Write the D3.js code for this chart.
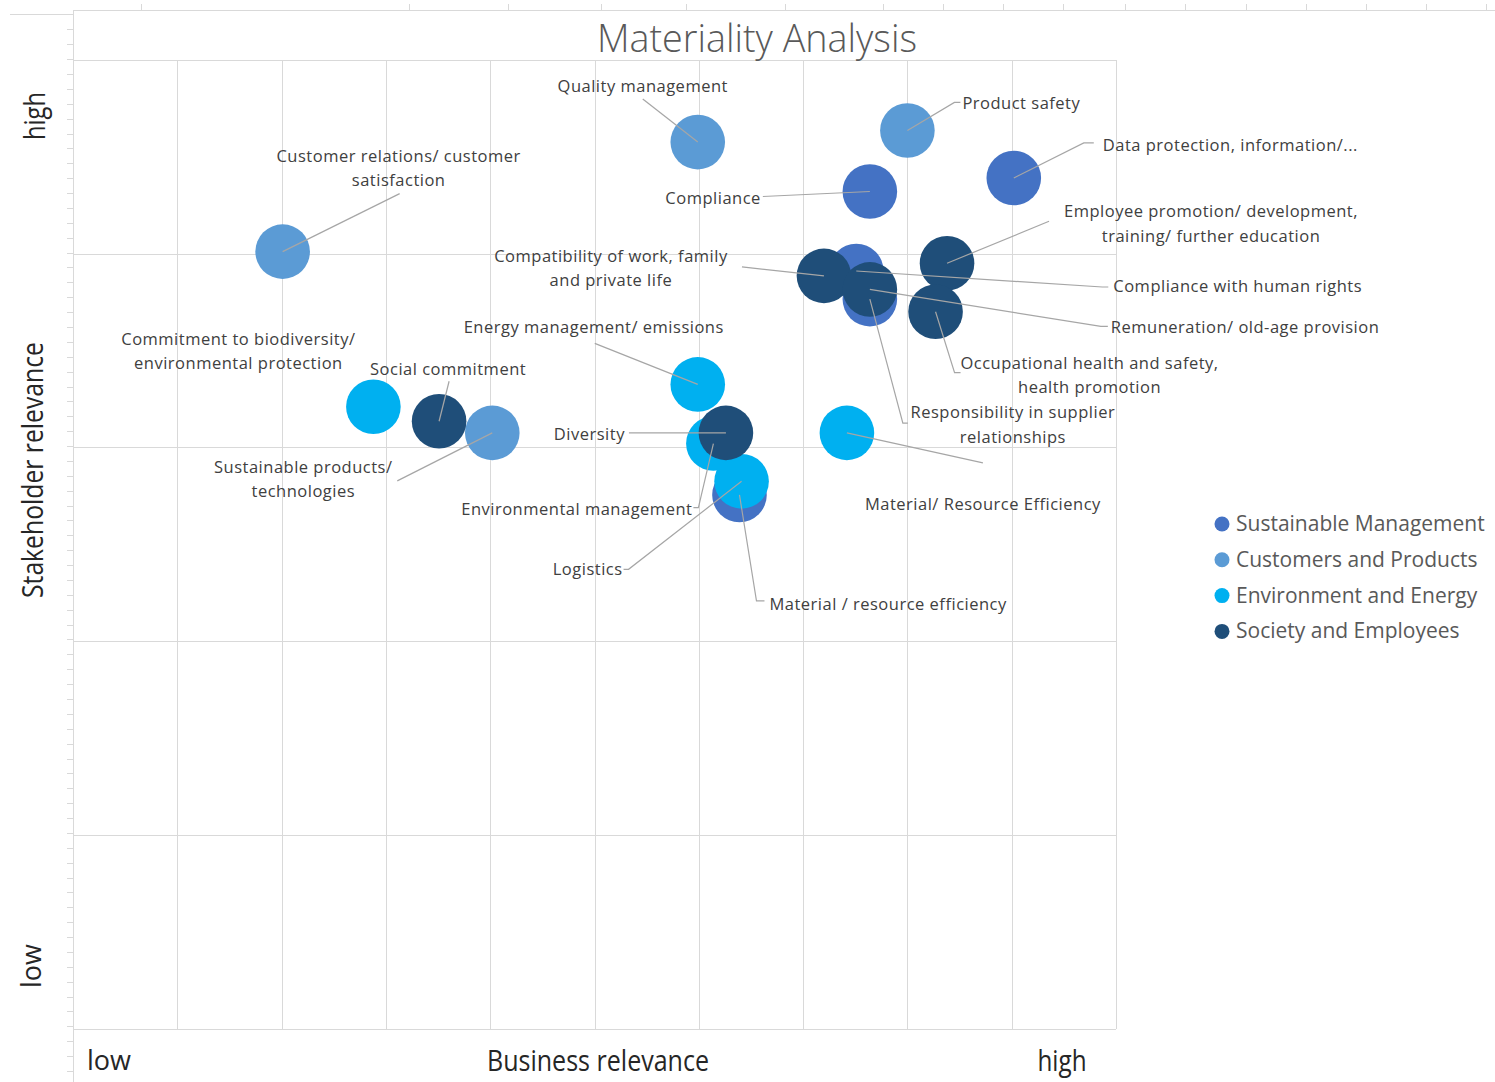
<!DOCTYPE html>
<meta charset="utf-8">
<title>Materiality Analysis</title>
<style>
body { margin: 0; background: #fff; }
svg { display: block; font-family: "Open Sans", "DejaVu Sans", sans-serif; }
.grid line, .frame line { stroke: #d9d9d9; stroke-width: 1; shape-rendering: crispEdges; }
.label { fill: #404040; font-size: 16.5px; letter-spacing: 0.5px; }
.leader { stroke: #a6a6a6; stroke-width: 1.2; fill: none; }
.legend text { fill: #595959; font-size: 21px; }
.axis-title { fill: #262626; }
</style>
<body>
<script src="https://d3js.org/d3.v7.min.js"></script>
<script>

// ---- data ----
var seriesNames  = ["Sustainable Management", "Customers and Products", "Environment and Energy", "Society and Employees"];
var seriesColors = ["#4472C4", "#5B9BD5", "#00B0F0", "#1F4E79"];

var sustainableManagement = [
  {name: "Compliance", x: 7.64, y: 8.64},
  {name: "Data protection, information/...", x: 9.02, y: 8.78},
  {name: "Compliance with human rights", x: 7.51, y: 7.82},
  {name: "Responsibility in supplier\nrelationships", x: 7.64, y: 7.53},
  {name: "Material / resource efficiency", x: 6.39, y: 5.51}
];
var customersProducts = [
  {name: "Quality management", x: 5.99, y: 9.15},
  {name: "Product safety", x: 8.00, y: 9.27},
  {name: "Customer relations/ customer\nsatisfaction", x: 2.01, y: 8.02},
  {name: "Sustainable products/\ntechnologies", x: 4.02, y: 6.15}
];
var environmentEnergy = [
  {name: "Commitment to biodiversity/\nenvironmental protection", x: 2.88, y: 6.42},
  {name: "Energy management/ emissions", x: 5.99, y: 6.65},
  {name: "Environmental management", x: 6.14, y: 6.04},
  {name: "Logistics", x: 6.41, y: 5.65},
  {name: "Material/ Resource Efficiency", x: 7.42, y: 6.15}
];
var societyEmployees = [
  {name: "Social commitment", x: 3.51, y: 6.27},
  {name: "Diversity", x: 6.26, y: 6.15},
  {name: "Compatibility of work, family\nand private life", x: 7.20, y: 7.77},
  {name: "Remuneration/ old-age provision", x: 7.64, y: 7.63},
  {name: "Employee promotion/ development,\ntraining/ further education", x: 8.38, y: 7.90},
  {name: "Occupational health and safety,\nhealth promotion", x: 8.27, y: 7.40}
];
var allSeries = [sustainableManagement, customersProducts, environmentEnergy, societyEmployees];

// label placement (pixel offsets from the bubble centre) and leader line bends
var labelLayout = {
  "Compliance": {a: "end", dx: -109, dy: 12, lead: [[-107, 5]]},
  "Data protection, information/...": {a: "start", dx: 89, dy: -27, lead: [[70, -35], [80, -35]]},
  "Compliance with human rights": {a: "start", dx: 257, dy: 21, lead: [[246, 16], [252, 16]]},
  "Responsibility in supplier\nrelationships": {a: "middle", dx: 143, dy: 119, lead: [[33, 124], [38, 124]]},
  "Material / resource efficiency": {a: "start", dx: 30, dy: 115, lead: [[17, 106], [25, 106]]},
  "Quality management": {a: "middle", dx: -55, dy: -50, lead: [[-55, -43]]},
  "Product safety": {a: "start", dx: 55, dy: -21, lead: [[47, -28], [53, -28]]},
  "Customer relations/ customer\nsatisfaction": {a: "middle", dx: 116, dy: -90, lead: [[117, -58]]},
  "Sustainable products/\ntechnologies": {a: "middle", dx: -189, dy: 40, lead: [[-95, 48]]},
  "Commitment to biodiversity/\nenvironmental protection": {a: "middle", dx: -135, dy: -62, lead: []},
  "Energy management/ emissions": {a: "middle", dx: -104, dy: -51, lead: [[-103, -41]]},
  "Environmental management": {a: "end", dx: -21, dy: 71, lead: [[-15, 64], [-20, 64]]},
  "Logistics": {a: "end", dx: -119, dy: 94, lead: [[-113, 88], [-118, 88]]},
  "Material/ Resource Efficiency": {a: "middle", dx: 136, dy: 77, lead: [[136, 30]]},
  "Social commitment": {a: "middle", dx: 9, dy: -46, lead: [[10, -40]]},
  "Diversity": {a: "end", dx: -101, dy: 7, lead: [[-97, 0]]},
  "Compatibility of work, family\nand private life": {a: "middle", dx: -213, dy: -14, lead: [[-82, -9]]},
  "Remuneration/ old-age provision": {a: "start", dx: 241, dy: 44, lead: [[231, 37], [238, 37]]},
  "Employee promotion/ development,\ntraining/ further education": {a: "middle", dx: 264, dy: -46, lead: [[102, -42]]},
  "Occupational health and safety,\nhealth promotion": {a: "middle", dx: 154, dy: 57, lead: [[19, 61], [25, 61]]}
};

// sheet ruler ticks along the top edge (decoration of the screenshot)
var rulerTicksTop = [141, 409, 508, 601, 686, 785, 883, 943, 1003, 1063, 1125, 1185, 1246, 1306, 1366, 1426, 1486];

// ---- layout ----
var W = 1495, H = 1082;
var plot = {left: 73, right: 1116, top: 59.7, bottom: 1029};
var radius = 27.3;

var x = d3.scaleLinear().domain([0, 10]).range([plot.left, plot.right]);
var y = d3.scaleLinear().domain([0, 10]).range([plot.bottom, plot.top]);

var svg = d3.select("body").append("svg")
    .attr("width", W)
    .attr("height", H);

// frame of the chart object + rulers
var frame = svg.append("g").attr("class", "frame");
frame.append("line").attr("x1", 73).attr("x2", W).attr("y1", 10.5).attr("y2", 10.5);
frame.append("line").attr("x1", 10).attr("x2", 73).attr("y1", 14.5).attr("y2", 14.5);
frame.append("line").attr("x1", 73.5).attr("x2", 73.5).attr("y1", 10).attr("y2", H);
frame.selectAll(".rt").data(rulerTicksTop).enter().append("line")
    .attr("x1", function(d) { return d; }).attr("x2", function(d) { return d; })
    .attr("y1", 4).attr("y2", 10);
frame.selectAll(".rl").data(d3.range(29.4, H, 14.88)).enter().append("line")
    .attr("x1", 67).attr("x2", 73)
    .attr("y1", function(d) { return Math.round(d) + 0.5; })
    .attr("y2", function(d) { return Math.round(d) + 0.5; });

// gridlines
var grid = svg.append("g").attr("class", "grid");
grid.selectAll(".gx").data(x.ticks(10)).enter().append("line")
    .attr("x1", function(d) { return Math.round(x(d)) + 0.5; })
    .attr("x2", function(d) { return Math.round(x(d)) + 0.5; })
    .attr("y1", plot.top).attr("y2", plot.bottom);
grid.selectAll(".gy").data(d3.range(0, 10.01, 2)).enter().append("line")
    .attr("y1", function(d) { return Math.round(y(d)) + 0.5; })
    .attr("y2", function(d) { return Math.round(y(d)) + 0.5; })
    .attr("x1", plot.left).attr("x2", plot.right);

// title
svg.append("text")
    .attr("x", 757).attr("y", 52)
    .attr("text-anchor", "middle")
    .attr("textLength", 320).attr("lengthAdjust", "spacingAndGlyphs")
    .style("font-size", "38px").style("font-weight", 300)
    .style("fill", "#595959")
    .text("Materiality Analysis");

// bubbles
allSeries.forEach(function(data, i) {
  svg.append("g").selectAll("circle").data(data).enter().append("circle")
      .attr("cx", function(d) { return x(d.x); })
      .attr("cy", function(d) { return y(d.y); })
      .attr("r", radius)
      .style("fill", seriesColors[i]);
});

var points = d3.merge(allSeries);

// leader lines
var line = d3.line();
svg.append("g").selectAll("path").data(points.filter(function(d) { return labelLayout[d.name].lead.length; }))
  .enter().append("path")
    .attr("class", "leader")
    .attr("d", function(d) {
      var cx = x(d.x), cy = y(d.y);
      var pts = [[cx, cy]].concat(labelLayout[d.name].lead.map(function(p) { return [cx + p[0], cy + p[1]]; }));
      return line(pts);
    });

// data labels
var labels = svg.append("g").selectAll("text").data(points).enter().append("text")
    .attr("class", "label")
    .attr("text-anchor", function(d) { return labelLayout[d.name].a; })
    .attr("x", function(d) { return x(d.x) + labelLayout[d.name].dx; })
    .attr("y", function(d) { return y(d.y) + labelLayout[d.name].dy; });
labels.each(function(d) {
  var t = d3.select(this), lx = x(d.x) + labelLayout[d.name].dx;
  d.name.split("\n").forEach(function(s, k) {
    t.append("tspan").attr("x", lx).attr("dy", k ? 24.5 : 0).text(s);
  });
});

// legend
var legend = svg.append("g").attr("class", "legend")
    .selectAll("g").data(seriesNames).enter().append("g")
    .attr("transform", function(d, i) { return "translate(1222," + (524 + i * 35.8) + ")"; });
legend.append("circle").attr("r", 7.5).style("fill", function(d, i) { return seriesColors[i]; });
legend.append("text").attr("x", 14).attr("y", 7).text(function(d) { return d; });

// axis titles
svg.append("text").attr("class", "axis-title")
    .attr("x", 87).attr("y", 1070).style("font-size", "27px").text("low");
svg.append("text").attr("class", "axis-title")
    .attr("x", 598).attr("y", 1071).attr("text-anchor", "middle")
    .attr("textLength", 222).attr("lengthAdjust", "spacingAndGlyphs")
    .style("font-size", "30px").text("Business relevance");
svg.append("text").attr("class", "axis-title")
    .attr("x", 1062).attr("y", 1071).attr("text-anchor", "middle")
    .attr("textLength", 49).attr("lengthAdjust", "spacingAndGlyphs")
    .style("font-size", "30px").text("high");

svg.append("text").attr("class", "axis-title")
    .attr("transform", "translate(45,116) rotate(-90)").attr("text-anchor", "middle")
    .attr("textLength", 48).attr("lengthAdjust", "spacingAndGlyphs")
    .style("font-size", "29px").text("high");
svg.append("text").attr("class", "axis-title")
    .attr("transform", "translate(43,470) rotate(-90)").attr("text-anchor", "middle")
    .attr("textLength", 256).attr("lengthAdjust", "spacingAndGlyphs")
    .style("font-size", "30px").text("Stakeholder relevance");
svg.append("text").attr("class", "axis-title")
    .attr("transform", "translate(41,966) rotate(-90)").attr("text-anchor", "middle")
    .style("font-size", "27px").text("low");

</script>
</body>
